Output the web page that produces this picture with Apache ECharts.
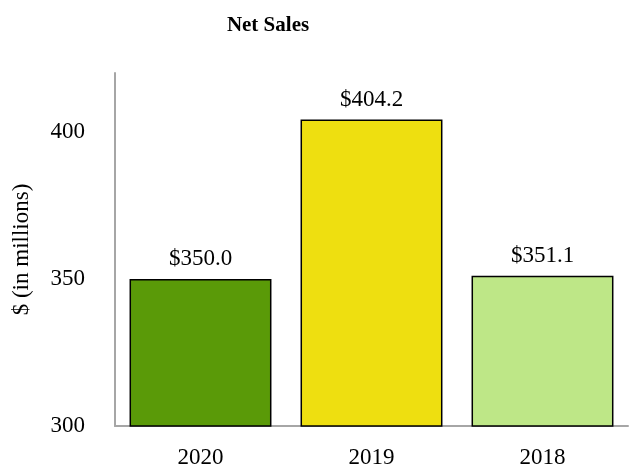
<!DOCTYPE html>
<html>
<head>
<meta charset="utf-8">
<script src="https://cdn.jsdelivr.net/npm/echarts@6/dist/echarts.min.js"></script>
<style>
  html, body { margin: 0; padding: 0; background: #fff; }
  #main { width: 639px; height: 469px; }
</style>
</head>
<body>
<div id="main"></div>
<script>
var years = ["2020", "2019", "2018"];
var netSales = [350.0, 404.2, 351.1];
var barColors = ["#5a9a08", "#eedf10", "#bee787"];
var yTicks = [300, 350, 400];

var font = "'Liberation Serif', 'Times New Roman', serif";
var myChart = echarts.init(document.getElementById("main"));

var barData = [];
for (var i = 0; i < netSales.length; i++) {
  barData.push({ value: netSales[i], itemStyle: { color: barColors[i] } });
}

var option = {
  animation: false,
  title: {
    text: "Net Sales",
    left: 263,
    textAlign: "center",
    top: 10,
    textStyle: { fontFamily: font, fontSize: 21, fontWeight: "bold", color: "#000" }
  },
  grid: { left: 115, right: 11, top: 73, bottom: 40 },
  xAxis: {
    type: "category",
    data: years,
    axisLine: { lineStyle: { color: "#a6a6a6", width: 2 } },
    axisTick: { show: false },
    axisLabel: { fontFamily: font, fontSize: 23, color: "#000", margin: 20 }
  },
  yAxis: {
    type: "value",
    min: 300,
    max: 420,
    interval: 50,
    name: "$ (in millions)",
    nameLocation: "middle",
    nameGap: 82,
    nameTextStyle: { fontFamily: font, fontSize: 23, color: "#000" },
    axisLine: { show: true, lineStyle: { color: "#a6a6a6", width: 2 } },
    axisTick: { show: false },
    splitLine: { show: false },
    axisLabel: {
      fontFamily: font, fontSize: 23, color: "#000", margin: 30,
      padding: [12, 0, 0, 0],
      formatter: function (v) { return yTicks.indexOf(v) >= 0 ? String(v) : ""; }
    }
  },
  series: [{
    type: "bar",
    data: barData,
    barCategoryGap: "17%",
    itemStyle: { borderColor: "#000", borderWidth: 1.5 },
    label: {
      show: true,
      position: "top",
      distance: 8,
      fontFamily: font,
      fontSize: 23,
      color: "#000",
      formatter: function (p) { return "$" + p.value.toFixed(1); }
    }
  }]
};
myChart.setOption(option);
</script>
</body>
</html>
